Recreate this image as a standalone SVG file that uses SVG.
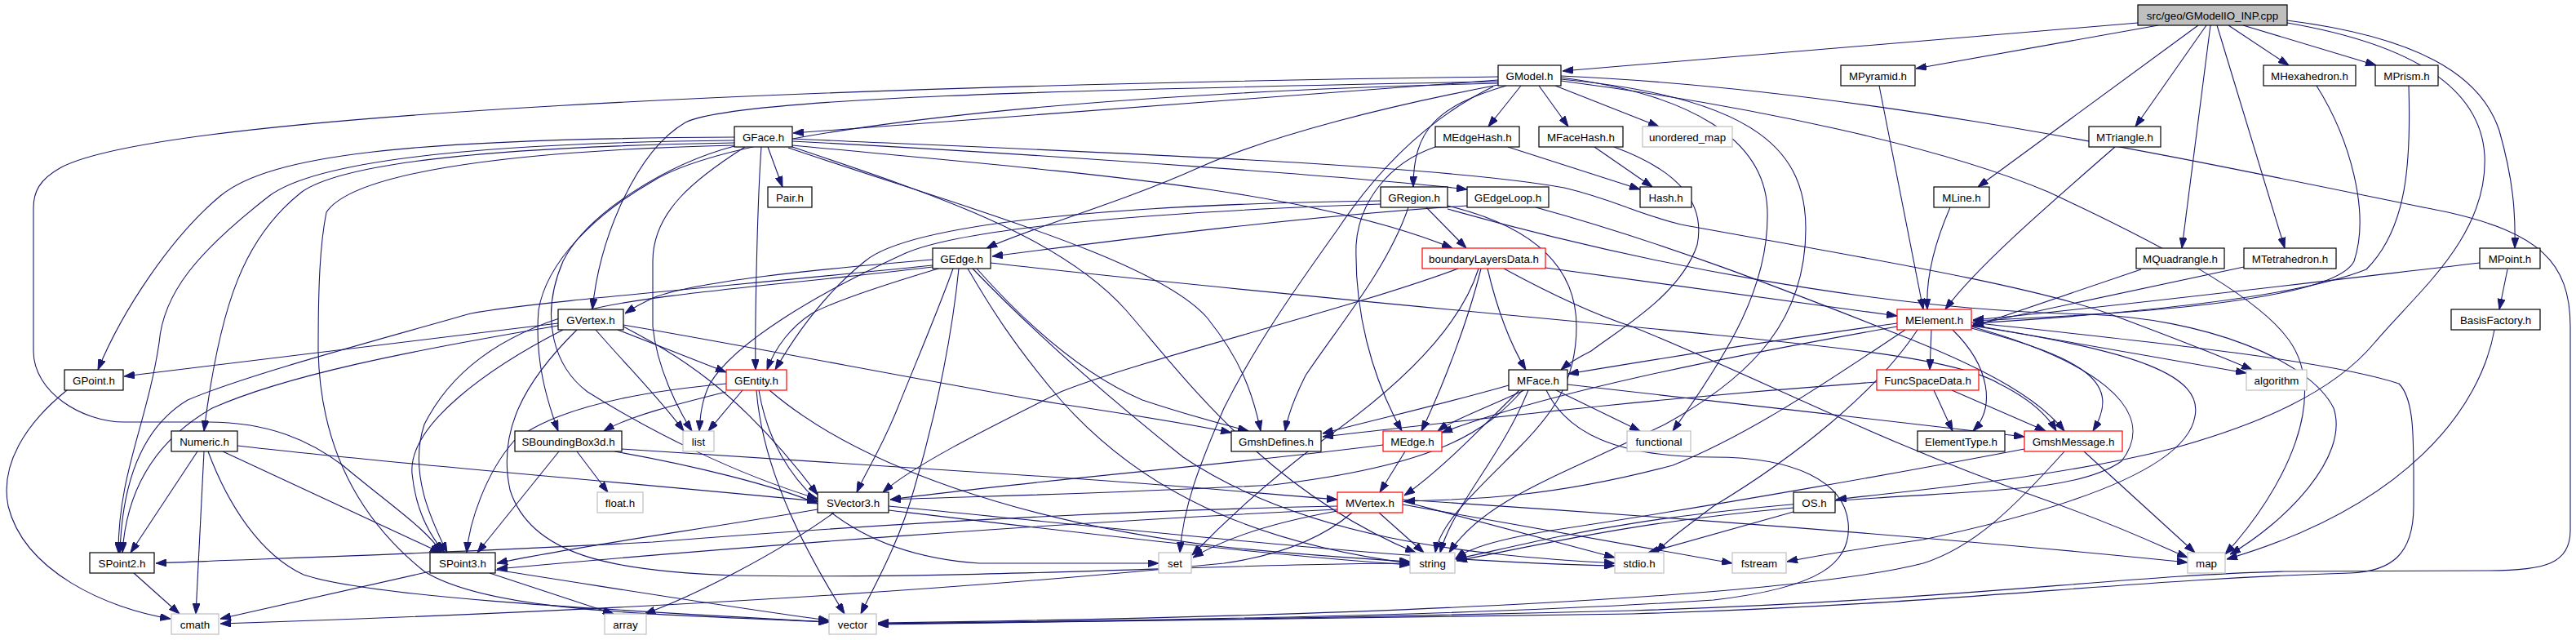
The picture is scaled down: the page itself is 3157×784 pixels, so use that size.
<svg xmlns="http://www.w3.org/2000/svg" width="3157" height="784" viewBox="0 0 3157 784">
<style>
.e path{fill:none;stroke:#191970;stroke-width:1.1;marker-end:url(#a)}
.n rect{fill:#fff;stroke:#000;stroke-width:1.2}
.r rect{stroke:#ff0000}
.g rect{stroke:#bfbfbf}
.root rect{fill:#bfbfbf}
text{font-family:'Liberation Sans',Arial,Helvetica,sans-serif;font-size:13.33px;text-anchor:middle;fill:#000}
</style>
<defs>
<marker id="a" markerUnits="userSpaceOnUse" markerWidth="13" markerHeight="9" refX="13" refY="4.5" orient="auto"><path d="M0,0 L13,4.5 L0,9 z" fill="#191970" stroke="#191970" stroke-width="1"/></marker>
</defs>
<rect width="3157" height="784" fill="#fff"/>
<g class="e" id="edges">
<path d="M2620,28 L1915,87"/>
<path d="M2645,31 L2348,84"/>
<path d="M2694,31 L2424,229"/>
<path d="M2704,31 L2617,155"/>
<path d="M2709,31 L2674,304"/>
<path d="M2717,31 L2800,304"/>
<path d="M2731,31 L2805,80"/>
<path d="M2749,31 L2912,80"/>
<path d="M2803,25 C2960,45 3040,90 3063,160 C3080,220 3083,260 3082,304"/>
<path d="M2803,28 C2960,55 3040,110 3045,190 C3050,290 2960,360 2910,420 C2860,480 2770,520 2660,550 C2520,585 2350,600 2250,612"/>
<path d="M1836,98 L972,163"/>
<path d="M1836,104 C1700,130 1560,165 1470,205 C1370,250 1260,280 1209,304"/>
<path d="M1846,105 C1760,130 1732,160 1732,229"/>
<path d="M1836,100 C1300,110 900,120 840,150 C780,185 735,290 726,379"/>
<path d="M1836,94 C1000,105 200,140 75,205 C48,220 41,235 41,255 L41,430 C41,480 100,517 153,517 L255,517 C330,517 380,540 420,570 C480,620 525,650 541,677"/>
<path d="M1836,102 C1300,115 900,160 800,222 C730,262 670,320 660,380 C655,440 670,490 684,528"/>
<path d="M1830,106 C1740,150 1680,220 1640,280 C1590,350 1540,420 1500,500 C1470,570 1450,620 1446,677"/>
<path d="M1864,105 L1824,155"/>
<path d="M1886,105 L1922,155"/>
<path d="M1906,105 L2033,155"/>
<path d="M1913,95 C2070,115 2165,170 2166,260 C2168,350 2120,430 2050,528"/>
<path d="M1913,97 C2160,120 2213,190 2213,280 C2213,390 2150,460 2040,520 C1920,580 1820,610 1776,677"/>
<path d="M1913,99 C2150,130 2380,180 2510,235 C2650,300 2760,360 2800,410 C2860,480 2800,600 2727,679"/>
<path d="M1913,93 C2300,110 2700,200 3000,260 C3110,285 3150,320 3150,400 L3150,650 C3150,690 3120,699 3050,699 L2800,700 C2600,705 2400,735 2000,748 C1600,758 1300,762 1076,764"/>
<path d="M941,180 L959,229"/>
<path d="M933,180 C928,250 925,400 926,453"/>
<path d="M913,180 C850,220 800,260 800,320 L800,400 C805,450 830,500 848,528"/>
<path d="M900,168 C500,170 330,190 270,240 C210,290 150,380 120,453"/>
<path d="M900,172 C600,175 390,195 330,240 C240,310 200,360 195,420 C180,520 145,580 145,677"/>
<path d="M900,175 C600,180 420,200 370,235 C300,290 270,370 250,528"/>
<path d="M900,178 C600,185 430,215 400,260 C392,300 390,350 390,430 C392,520 420,620 520,700 C600,750 800,752 1016,762"/>
<path d="M900,179 C820,200 720,260 690,320 C660,390 680,450 720,480 C800,530 900,580 1002,611"/>
<path d="M971,173 C1300,190 1700,220 1798,232"/>
<path d="M971,170 C1300,185 1750,200 1917,230 C1980,245 2000,260 2060,275 C2250,310 2500,350 2600,390 C2680,420 2730,440 2760,453"/>
<path d="M971,178 C1300,210 1600,230 1780,304"/>
<path d="M966,181 C1200,260 1420,320 1480,390 C1520,440 1535,480 1545,528"/>
<path d="M971,180 C1150,240 1300,290 1380,380 C1450,460 1550,600 1735,677"/>
<path d="M1692,246 C1400,250 1120,270 1060,320 C1010,360 975,410 950,453"/>
<path d="M1692,250 C1400,260 1180,280 1110,310 C1000,360 900,420 870,470 C860,490 858,510 857,528"/>
<path d="M1748,254 L1797,304"/>
<path d="M1726,254 C1700,330 1640,400 1600,460 C1585,490 1578,510 1575,528"/>
<path d="M1774,252 C1870,275 1932,320 1932,400 C1932,470 1900,510 1860,550 C1810,600 1765,640 1759,677"/>
<path d="M1774,256 C2000,320 2300,380 2560,385 C2700,390 2830,440 2860,500 C2880,560 2800,640 2733,679"/>
<path d="M1882,254 C2050,300 2200,360 2340,415 C2440,455 2500,490 2530,528"/>
<path d="M1848,180 L2010,232"/>
<path d="M1759,180 C1700,200 1665,250 1662,300 C1660,380 1680,460 1718,528"/>
<path d="M1954,180 L2025,229"/>
<path d="M1978,180 C2060,210 2090,250 2080,300 C2060,360 1990,400 1950,430 C1930,440 1920,447 1913,453"/>
<path d="M1798,252 C1600,265 1400,290 1216,314"/>
<path d="M1894,328 L2325,387"/>
<path d="M1787,329 C1650,380 1400,440 1300,480 C1200,530 1120,570 1082,603"/>
<path d="M1812,329 C1790,400 1720,470 1620,540 C1540,600 1490,650 1461,680"/>
<path d="M1815,329 C1800,390 1770,470 1742,528"/>
<path d="M1823,329 C1835,380 1850,420 1870,453"/>
<path d="M1843,329 C1900,360 1950,384 2000,400 C2150,460 2300,540 2500,610 C2600,645 2650,670 2681,683"/>
<path d="M1143,318 C1000,330 850,345 800,365 C785,372 775,378 766,384"/>
<path d="M1150,329 C1080,350 1020,370 995,384 C970,400 950,425 940,453"/>
<path d="M1168,329 C1150,380 1120,450 1100,500 C1080,550 1060,580 1050,603"/>
<path d="M1175,329 C1168,400 1150,500 1120,600 C1100,670 1070,720 1055,752"/>
<path d="M1186,329 C1210,370 1240,420 1300,490 C1380,580 1500,660 1728,690"/>
<path d="M1192,329 C1260,400 1350,480 1450,560 C1600,660 1800,680 1979,690"/>
<path d="M1197,329 C1260,400 1330,460 1400,490 C1460,510 1500,520 1530,528"/>
<path d="M1214,322 C1500,355 1900,390 2100,410 C2250,425 2400,440 2450,470 C2490,490 2510,510 2520,528"/>
<path d="M1143,325 C900,350 650,370 577,384 C450,420 300,460 230,490 C180,520 150,580 147,677"/>
<path d="M1143,327 C950,350 800,360 720,380 C640,400 560,440 520,520 C500,580 530,640 548,677"/>
<path d="M684,396 L152,461"/>
<path d="M684,399 C500,430 350,460 260,500 C190,540 155,600 150,677"/>
<path d="M690,404 C600,450 500,520 505,580 C510,630 530,660 545,677"/>
<path d="M757,404 L890,456"/>
<path d="M730,404 C770,450 810,490 838,528"/>
<path d="M764,398 C950,430 1150,470 1300,495 C1400,510 1460,520 1509,530"/>
<path d="M764,400 C820,430 900,470 1002,606"/>
<path d="M707,404 C640,470 610,530 625,600 C650,680 750,700 900,705 C1200,710 1500,690 1728,690"/>
<path d="M762,550 C900,558 1086,571 1300,585 C1450,595 1550,605 1639,612"/>
<path d="M910,478 L868,528"/>
<path d="M890,480 C830,495 770,510 740,528"/>
<path d="M890,470 C780,480 680,500 630,540 C595,580 575,640 572,677"/>
<path d="M927,478 C935,580 990,680 1035,752"/>
<path d="M930,478 C950,600 1050,680 1200,690 L1420,690"/>
<path d="M943,478 C1050,570 1250,640 1500,670 C1600,680 1680,685 1728,688"/>
<path d="M242,553 L160,677"/>
<path d="M250,553 L240,752"/>
<path d="M273,553 L540,677"/>
<path d="M291,546 C450,565 700,585 1002,614"/>
<path d="M255,553 C280,620 320,680 372,704 C450,730 700,745 1016,762"/>
<path d="M707,553 L745,603"/>
<path d="M685,553 L585,677"/>
<path d="M753,553 C850,570 950,595 1002,617"/>
<path d="M1002,624 C850,650 700,670 609,690"/>
<path d="M1022,628 C950,680 850,730 790,752"/>
<path d="M1089,620 C1400,650 1750,690 1979,693"/>
<path d="M1089,625 C1300,650 1550,680 1728,692"/>
<path d="M1722,553 L1691,603"/>
<path d="M1695,545 C1500,570 1250,590 1091,612"/>
<path d="M1868,478 C1820,500 1780,515 1762,528"/>
<path d="M1849,472 C1750,500 1680,515 1621,531"/>
<path d="M1862,478 C1800,540 1760,580 1721,607"/>
<path d="M1907,478 L2010,528"/>
<path d="M1866,478 C1820,530 1760,570 1560,594 C1350,605 1200,608 1091,612"/>
<path d="M1873,478 C1840,560 1780,620 1765,677"/>
<path d="M1895,478 C1920,530 1980,560 2100,560 C2200,560 2260,590 2265,640 C2270,690 2230,720 2100,735 C1800,755 1400,760 1076,764"/>
<path d="M1921,471 C2100,490 2300,515 2481,535"/>
<path d="M1639,620 C1400,625 1100,640 800,664 C500,680 300,685 191,690"/>
<path d="M1639,624 C1300,640 900,670 609,697"/>
<path d="M1639,626 C1560,640 1500,660 1462,683"/>
<path d="M1690,628 L1745,677"/>
<path d="M1657,628 C1620,660 1570,680 1500,690 C1200,720 800,747 270,764"/>
<path d="M1719,614 L1979,683"/>
<path d="M1719,618 L2123,690"/>
<path d="M1719,612 C2000,630 2400,660 2681,689"/>
<path d="M2325,400 C2100,440 1900,480 1767,530"/>
<path d="M2325,396 C2150,420 2000,445 1922,458"/>
<path d="M2335,404 C2250,460 2150,530 2050,570 C1900,610 1800,612 1721,614"/>
<path d="M2367,404 L2365,453"/>
<path d="M2393,404 C2440,450 2445,500 2418,528"/>
<path d="M2416,402 C2560,440 2600,470 2565,528"/>
<path d="M2416,398 L2753,457"/>
<path d="M2416,400 C2560,440 2650,500 2600,565 C2550,600 2450,600 2300,610 C2000,630 1900,660 1784,685"/>
<path d="M2416,399 C2620,430 2700,460 2690,510 C2680,570 2550,620 2357,661 C2280,672 2230,680 2190,688"/>
<path d="M2350,404 C2300,480 2200,560 2100,620 C2060,650 2040,665 2030,677"/>
<path d="M2416,395 C2600,415 2850,440 2940,470 C2960,490 2958,540 2958,620 C2958,680 2930,700 2880,702 C2600,710 2400,740 2000,752 C1600,760 1300,763 1076,765"/>
<path d="M2554,553 L2690,677"/>
<path d="M2481,550 C2350,575 2100,620 1900,650 C1830,662 1800,672 1784,684"/>
<path d="M2530,553 C2470,620 2420,670 2357,690 C2200,730 1700,755 1076,763"/>
<path d="M2300,468 C2000,490 1800,515 1621,535"/>
<path d="M2370,478 L2393,528"/>
<path d="M2392,478 L2507,528"/>
<path d="M2198,622 C2000,640 1900,665 1785,687"/>
<path d="M2198,627 L2020,677"/>
<path d="M527,700 L270,758"/>
<path d="M600,702 L752,752"/>
<path d="M607,698 C750,720 900,745 1016,760"/>
<path d="M164,702 L220,752"/>
<path d="M82,478 C30,520 0,570 10,620 C30,700 130,745 209,758"/>
<path d="M3039,322 C2800,350 2550,380 2418,392"/>
<path d="M3073,330 L3063,379"/>
<path d="M3057,404 C3040,500 2950,620 2729,685"/>
<path d="M2303,105 L2357,379"/>
<path d="M2390,254 C2370,300 2360,340 2362,379"/>
<path d="M2592,180 C2500,260 2420,330 2384,379"/>
<path d="M2624,330 L2418,400"/>
<path d="M2750,327 L2418,398"/>
<path d="M2839,105 C2880,170 2905,260 2885,320 C2860,370 2600,385 2418,393"/>
<path d="M2952,105 C2955,200 2950,280 2900,330 C2800,370 2550,388 2418,396"/>
</g>
<g id="nodes">
<g id="n_root" class="n root"><rect x="2620" y="6" width="183" height="25"/><text x="2711.5" y="23.5">src/geo/GModelIO_INP.cpp</text></g>
<g id="n_GModel" class="n"><rect x="1836" y="80" width="77" height="25"/><text x="1874.5" y="97.5">GModel.h</text></g>
<g id="n_MPyramid" class="n"><rect x="2256" y="80" width="91" height="25"/><text x="2301.5" y="97.5">MPyramid.h</text></g>
<g id="n_MHexahedron" class="n"><rect x="2774" y="80" width="113" height="25"/><text x="2830.5" y="97.5">MHexahedron.h</text></g>
<g id="n_MPrism" class="n"><rect x="2911" y="80" width="77" height="25"/><text x="2949.5" y="97.5">MPrism.h</text></g>
<g id="n_GFace" class="n"><rect x="900" y="155" width="71" height="25"/><text x="935.5" y="172.5">GFace.h</text></g>
<g id="n_MEdgeHash" class="n"><rect x="1759" y="155" width="103" height="25"/><text x="1810.5" y="172.5">MEdgeHash.h</text></g>
<g id="n_MFaceHash" class="n"><rect x="1886" y="155" width="103" height="25"/><text x="1937.5" y="172.5">MFaceHash.h</text></g>
<g id="n_unordered_map" class="n g"><rect x="2013" y="155" width="110" height="25"/><text x="2068" y="172.5">unordered_map</text></g>
<g id="n_MTriangle" class="n"><rect x="2560" y="155" width="88" height="25"/><text x="2604" y="172.5">MTriangle.h</text></g>
<g id="n_Pair" class="n"><rect x="941" y="229" width="54" height="25"/><text x="968" y="246.5">Pair.h</text></g>
<g id="n_GRegion" class="n"><rect x="1692" y="229" width="82" height="25"/><text x="1733" y="246.5">GRegion.h</text></g>
<g id="n_GEdgeLoop" class="n"><rect x="1798" y="229" width="100" height="25"/><text x="1848" y="246.5">GEdgeLoop.h</text></g>
<g id="n_Hash" class="n"><rect x="2010" y="229" width="63" height="25"/><text x="2041.5" y="246.5">Hash.h</text></g>
<g id="n_MLine" class="n"><rect x="2370" y="229" width="68" height="25"/><text x="2404" y="246.5">MLine.h</text></g>
<g id="n_GEdge" class="n"><rect x="1143" y="304" width="71" height="25"/><text x="1178.5" y="321.5">GEdge.h</text></g>
<g id="n_boundaryLayersData" class="n r"><rect x="1743" y="304" width="151" height="25"/><text x="1818.5" y="321.5">boundaryLayersData.h</text></g>
<g id="n_MQuadrangle" class="n"><rect x="2618" y="304" width="108" height="25"/><text x="2672" y="321.5">MQuadrangle.h</text></g>
<g id="n_MTetrahedron" class="n"><rect x="2750" y="304" width="113" height="25"/><text x="2806.5" y="321.5">MTetrahedron.h</text></g>
<g id="n_MPoint" class="n"><rect x="3039" y="304" width="74" height="25"/><text x="3076" y="321.5">MPoint.h</text></g>
<g id="n_GVertex" class="n"><rect x="684" y="379" width="80" height="25"/><text x="724" y="396.5">GVertex.h</text></g>
<g id="n_MElement" class="n r"><rect x="2325" y="379" width="91" height="25"/><text x="2370.5" y="396.5">MElement.h</text></g>
<g id="n_BasisFactory" class="n"><rect x="3004" y="379" width="109" height="25"/><text x="3058.5" y="396.5">BasisFactory.h</text></g>
<g id="n_GPoint" class="n"><rect x="79" y="453" width="72" height="25"/><text x="115" y="470.5">GPoint.h</text></g>
<g id="n_GEntity" class="n r"><rect x="890" y="453" width="74" height="25"/><text x="927" y="470.5">GEntity.h</text></g>
<g id="n_MFace" class="n"><rect x="1849" y="453" width="72" height="25"/><text x="1885" y="470.5">MFace.h</text></g>
<g id="n_FuncSpaceData" class="n r"><rect x="2300" y="453" width="125" height="25"/><text x="2362.5" y="470.5">FuncSpaceData.h</text></g>
<g id="n_algorithm" class="n g"><rect x="2753" y="453" width="74" height="25"/><text x="2790" y="470.5">algorithm</text></g>
<g id="n_Numeric" class="n"><rect x="210" y="528" width="81" height="25"/><text x="250.5" y="545.5">Numeric.h</text></g>
<g id="n_SBoundingBox3d" class="n"><rect x="631" y="528" width="131" height="25"/><text x="696.5" y="545.5">SBoundingBox3d.h</text></g>
<g id="n_list" class="n g"><rect x="837" y="528" width="38" height="25"/><text x="856" y="545.5">list</text></g>
<g id="n_GmshDefines" class="n"><rect x="1509" y="528" width="110" height="25"/><text x="1564" y="545.5">GmshDefines.h</text></g>
<g id="n_MEdge" class="n r"><rect x="1695" y="528" width="72" height="25"/><text x="1731" y="545.5">MEdge.h</text></g>
<g id="n_functional" class="n g"><rect x="1994" y="528" width="78" height="25"/><text x="2033" y="545.5">functional</text></g>
<g id="n_ElementType" class="n"><rect x="2350" y="528" width="107" height="25"/><text x="2403.5" y="545.5">ElementType.h</text></g>
<g id="n_GmshMessage" class="n r"><rect x="2481" y="528" width="120" height="25"/><text x="2541" y="545.5">GmshMessage.h</text></g>
<g id="n_float" class="n g"><rect x="732" y="603" width="56" height="25"/><text x="760" y="620.5">float.h</text></g>
<g id="n_SVector3" class="n"><rect x="1002" y="603" width="87" height="25"/><text x="1045.5" y="620.5">SVector3.h</text></g>
<g id="n_MVertex" class="n r"><rect x="1639" y="603" width="80" height="25"/><text x="1679" y="620.5">MVertex.h</text></g>
<g id="n_OS" class="n"><rect x="2198" y="603" width="51" height="25"/><text x="2223.5" y="620.5">OS.h</text></g>
<g id="n_SPoint2" class="n"><rect x="110" y="677" width="79" height="25"/><text x="149.5" y="694.5">SPoint2.h</text></g>
<g id="n_SPoint3" class="n"><rect x="527" y="677" width="80" height="25"/><text x="567" y="694.5">SPoint3.h</text></g>
<g id="n_set" class="n g"><rect x="1420" y="677" width="40" height="25"/><text x="1440" y="694.5">set</text></g>
<g id="n_string" class="n g"><rect x="1728" y="677" width="55" height="25"/><text x="1755.5" y="694.5">string</text></g>
<g id="n_stdio" class="n g"><rect x="1979" y="677" width="60" height="25"/><text x="2009" y="694.5">stdio.h</text></g>
<g id="n_fstream" class="n g"><rect x="2123" y="677" width="66" height="25"/><text x="2156" y="694.5">fstream</text></g>
<g id="n_map" class="n g"><rect x="2681" y="677" width="46" height="25"/><text x="2704" y="694.5">map</text></g>
<g id="n_cmath" class="n g"><rect x="210" y="752" width="58" height="25"/><text x="239" y="769.5">cmath</text></g>
<g id="n_array" class="n g"><rect x="741" y="752" width="51" height="25"/><text x="766.5" y="769.5">array</text></g>
<g id="n_vector" class="n g"><rect x="1016" y="752" width="58" height="25"/><text x="1045" y="769.5">vector</text></g>
</g>
</svg>
